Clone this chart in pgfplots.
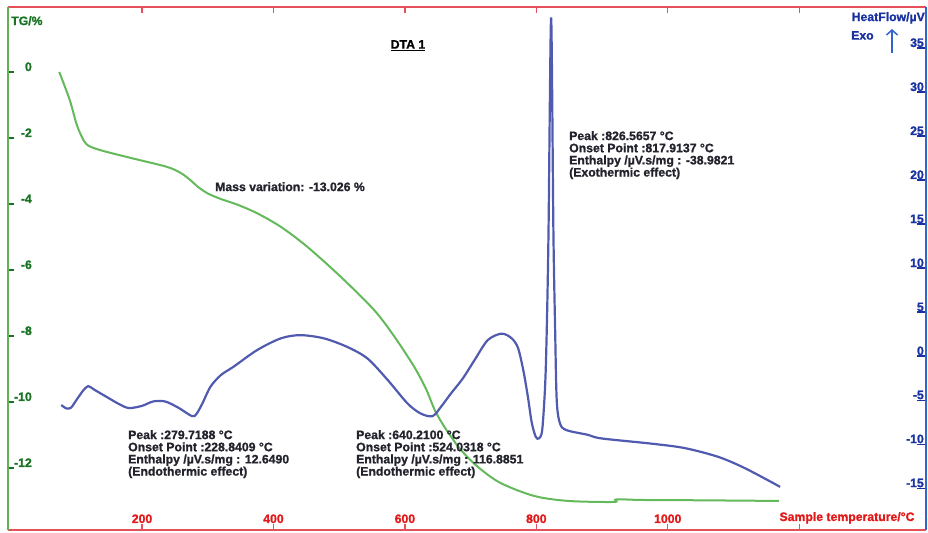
\documentclass[border=0pt]{standalone}
\usepackage{pgfplots}
\pgfplotsset{compat=1.18}
\usetikzlibrary{arrows.meta}
\usepackage{fontspec}
\setmainfont{Liberation Sans}[BoldFeatures={FakeBold=1.2}]
\definecolor{tgline}{RGB}{100,185,90}
\definecolor{tgaxis}{RGB}{95,180,80}
\definecolor{tgtext}{RGB}{25,115,35}
\definecolor{hfline}{RGB}{80,90,175}
\definecolor{hfaxis}{RGB}{50,100,205}
\definecolor{hftext}{RGB}{25,50,160}
\definecolor{redaxis}{RGB}{230,80,90}
\definecolor{redtext}{RGB}{225,25,25}
\definecolor{annot}{RGB}{35,35,45}
\newcommand{\fs}{\fontsize{12.3}{12.2}\selectfont\bfseries}
\begin{document}
\begin{tikzpicture}[x=1bp,y=1bp]
\useasboundingbox (0,0) rectangle (928,533);
\begin{axis}[
  at={(8bp,3bp)}, anchor=south west,
  width=918bp, height=523bp, scale only axis,
  xmin=-4, xmax=1393, ymin=-13.88, ymax=1.97,
  separate axis lines,
  x axis line style={redaxis, line width=1.8bp},
  y axis line style={tgaxis, line width=2.6bp},
  tick align=inside,
  major tick length=6bp,
  xtick={200,400,600,800,1000,1200},
  xticklabels={200,400,600,800,1000,{}},
  xtick pos=both,
  xticklabel pos=left,
  ytick={-12,-10,...,0},
  ytick pos=left,
  x tick style={redaxis, line width=1.2bp},
  y tick style={tgtext, line width=1.2bp},
  /pgf/number format/assume math mode=true,
  xticklabel style={font=\fs, text=redtext, anchor=base, yshift=7bp, inner sep=0pt},
  yticklabel style={font=\fs, text=tgtext, anchor=base east, xshift=24bp, yshift=1bp, inner sep=0pt},
  clip=false,
]
\addplot[tgline, line width=2bp, smooth, tension=0.5] coordinates {
(74,0.0) (90,-0.85) (100,-1.56) (108,-1.95) (116,-2.2) (135,-2.36) (186,-2.62)
(237,-2.87) (258,-3.05) (272,-3.25) (285,-3.48) (300,-3.68) (320,-3.85) (345,-4.02)
(375,-4.28) (411,-4.69) (451,-5.29) (502,-6.2) (553,-7.21) (584,-8.02) (614,-8.93)
(632,-9.6) (646,-10.27) (660,-10.75) (672,-11.1) (685,-11.45) (710,-11.95) (745,-12.45)
(797,-12.85) (849,-13.0) (918,-13.03) (922,-12.95) (960,-12.97) (1050,-12.98) (1169,-13.0)
};
\end{axis}
\begin{axis}[
  at={(8bp,3bp)}, anchor=south west,
  width=918bp, height=523bp, scale only axis,
  xmin=-4, xmax=1393, ymin=-19.75, ymax=39.65,
  axis x line=none, xtick=\empty,
  axis y line*=right,
  y axis line style={hfaxis, line width=2.6bp, -},
  tick align=inside, major tick length=9bp,
  ytick={-15,-10,...,35},
  y tick style={hftext, line width=1.2bp},
  /pgf/number format/assume math mode=true,
  yticklabel style={font=\fs, text=hftext, anchor=base east, xshift=-2bp, yshift=1bp, inner sep=0pt},
  clip=false,
]
\addplot[hfline, line width=2.2bp, smooth, tension=0.5, y filter/.expression={y+0.45}] coordinates {
(77,-6.0) (85,-6.4) (92,-6.3) (100,-5.45) (110,-4.4) (118,-3.86) (128,-4.3) (146,-5.08)
(165,-5.9) (180,-6.35) (200,-6.1) (217,-5.6) (235,-5.6) (255,-6.3) (276,-7.27) (283,-7.0)
(292,-5.8) (304,-3.94) (320,-2.6) (339,-1.67) (375,0.23) (411,1.56) (441,1.93) (477,1.56)
(512,0.6) (543,-0.72) (574,-3.18) (604,-5.83) (624,-6.97) (642,-7.27) (655,-6.2) (670,-4.7)
(688,-3.0) (706,-0.9) (726,1.36) (747,2.1) (762,1.6) (772,0.5) (780,-2.0) (787,-5.0)
(793,-8.0) (799,-9.6) (804,-9.8) (809,-8.8) (813.5,-3.6) (816,3) (818.5,13.5) (822.5,38.0)
(826,13.5) (828.5,3) (831,-5.45) (836,-8.1) (846,-8.86) (879,-9.4) (899,-9.8) (976,-10.4)
(1026,-10.9) (1077,-11.9) (1118,-13.2) (1171,-15.3)
};
\end{axis}
\node[anchor=north, inner sep=0pt, font=\fs, text=black] at (408,493) {\underline{DTA 1}};
\node[anchor=north west, inner sep=0pt, font=\fs, text=annot] at (215,351) {Mass variation: -13.026 \%};
\node[anchor=north west, inner sep=0pt, font=\fs, text=annot, align=left] at (128,103)
  {Peak :279.7188 °C\\Onset Point :228.8409 °C\\Enthalpy /µV.s/mg : 12.6490\\(Endothermic effect)};
\node[anchor=north west, inner sep=0pt, font=\fs, text=annot, align=left] at (356,103)
  {Peak :640.2100 °C\\Onset Point :524.0318 °C\\Enthalpy /µV.s/mg : 116.8851\\(Endothermic effect)};
\node[anchor=north west, inner sep=0pt, font=\fs, text=annot, align=left] at (569,402)
  {Peak :826.5657 °C\\Onset Point :817.9137 °C\\Enthalpy /µV.s/mg : -38.9821\\(Exothermic effect)};
\node[anchor=north west, inner sep=0pt, font=\fs, text=tgtext] at (11,517) {TG/\%};
\node[anchor=north east, inner sep=0pt, font=\fs, text=hftext] at (925,521) {HeatFlow/µV};
\node[anchor=north west, inner sep=0pt, font=\fs, text=hftext] at (851,502) {Exo};
\draw[hfaxis, line width=1.5bp, -{Straight Barb[length=5bp,width=11bp]}] (892,480) -- (892,504);
\node[anchor=base, inner sep=0pt, font=\fs, text=redtext] at (847,12) {Sample temperature/°C};
\end{tikzpicture}
\end{document}
